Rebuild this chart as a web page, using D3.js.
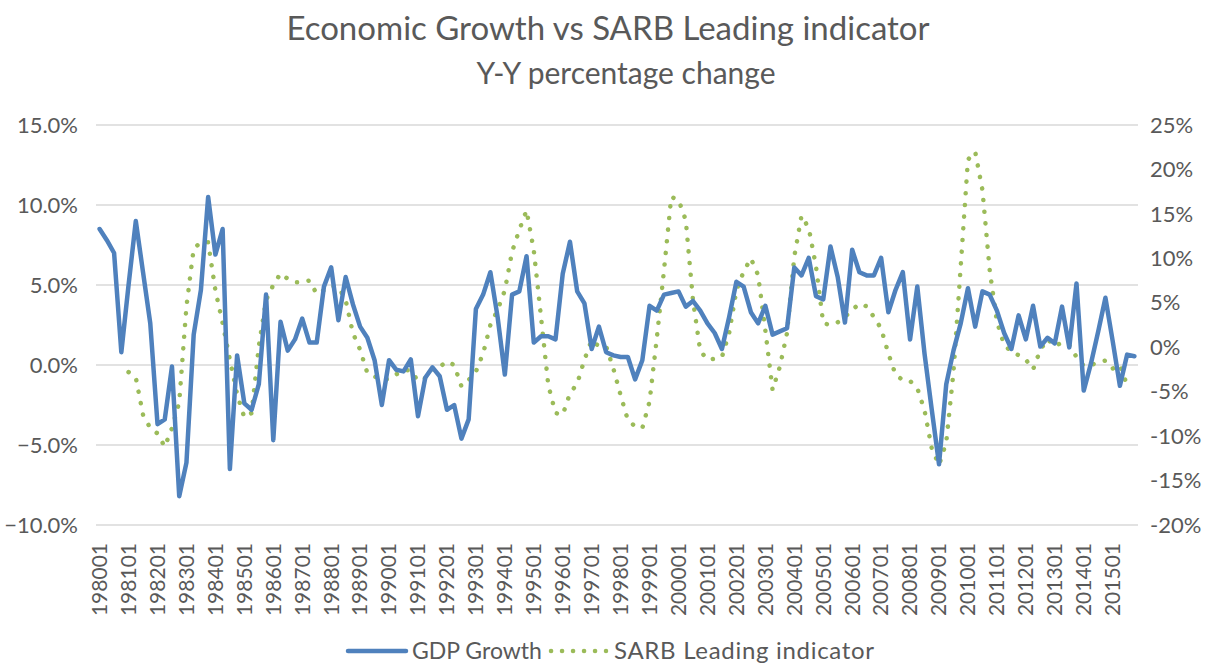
<!DOCTYPE html>
<html>
<head>
<meta charset="utf-8">
<script src="https://cdn.jsdelivr.net/npm/d3@7"></script>
<style>
  body { margin: 0; background: #fff; }
  text { font-family: Lato, "Open Sans", sans-serif; fill: #595959; }
</style>
</head>
<body>
<svg id="chart" width="1216" height="664"></svg>
<script>
// quarters 1980Q1 .. 2015Q4, labelled YYYY0Q
var years = d3.range(1980, 2016);
var quarters = [];
years.forEach(function (y) {
  [1, 2, 3, 4].forEach(function (q) { quarters.push(y + "0" + q); });
});

// GDP growth, y-y % (left axis)
var gdpGrowth = [
  8.5, 7.8, 7.0, 0.8, 5.0, 9.0, 5.8, 2.6,
  -3.7, -3.4, -0.1, -8.2, -6.1, 1.9, 4.7, 10.5,
  6.9, 8.5, -6.5, 0.6, -2.4, -2.8, -1.2, 4.4,
  -4.7, 2.7, 0.9, 1.6, 2.9, 1.4, 1.4, 4.9,
  6.1, 2.8, 5.5, 3.8, 2.4, 1.7, 0.3, -2.5,
  0.3, -0.3, -0.4, 0.35, -3.2, -0.8, -0.15, -0.7,
  -2.8, -2.5, -4.6, -3.4, 3.5, 4.4, 5.8, 3.0,
  -0.6, 4.4, 4.6, 6.8, 1.4, 1.8, 1.8, 1.6,
  5.7, 7.7, 4.6, 3.85, 1.0, 2.4, 0.8, 0.6,
  0.5, 0.5, -0.9, 0.3, 3.7, 3.4, 4.4, 4.5,
  4.6, 3.65, 4.0, 3.4, 2.6, 2.0, 1.0, 3.0,
  5.2, 4.9, 3.3, 2.6, 3.7, 1.9, 2.1, 2.3,
  6.1, 5.6, 6.7, 4.3, 4.1, 7.4, 5.5, 2.65,
  7.2, 5.8, 5.6, 5.6, 6.7, 3.3, 4.7, 5.8,
  1.6, 4.9, 0.7, -2.8, -6.2, -1.2, 0.9, 2.6,
  4.8, 2.4, 4.6, 4.4, 3.4, 2.0, 1.0, 3.1,
  1.6, 3.7, 1.15, 1.7, 1.35, 3.65, 1.1, 5.1,
  -1.6, 0.1, 2.1, 4.2, 1.5, -1.3, 0.65, 0.55
];

// SARB leading indicator, y-y % (right axis)
var sarbLeading = [
  null, null, null, null, -2.8, -3.4, -7.6, -9.1,
  -9.7, -11.2, -9.1, -6.2, 4.6, 11.1, 11.8, 11.8,
  6.4, 2.7, -1.4, -5.3, -7.9, -7.4, 0.1, 5.3,
  7.0, 8.3, 7.7, 7.3, 7.3, 7.5, 6.0, 6.4,
  6.9, 6.8, 5.3, 1.6, -0.3, -2.9, -3.3, -3.6,
  -3.6, -3.05, -2.6, -2.6, -3.8, -3.5, -2.4, -2.2,
  -1.6, -2.0, -4.4, -3.7, -2.75, -0.7, 2.5, 4.2,
  6.4, 10.75, 13.2, 15.4, 10.9, 3.4, -4.25, -7.4,
  -7.6, -5.2, -4.1, -1.4, 0.8, 0.1, 0.1, -2.4,
  -5.4, -8.2, -8.9, -9.1, -6.1, 1.0, 8.7, 16.9,
  16.6, 14.3, 5.3, -0.4, -1.4, -1.3, -1.1, 1.6,
  6.4, 8.5, 10.0, 8.1, 1.9, -4.8, -2.2, 1.6,
  10.2, 14.8, 13.4, 9.1, 2.7, 2.5, 2.8, 3.4,
  4.2, 4.9, 4.6, 3.4, 2.1, -0.7, -3.1, -3.7,
  -3.8, -4.6, -7.1, -11.4, -13.25, -10.7, -2.8, 9.1,
  21.1, 22.0, 17.7, 8.7, 2.9, 0.25, -0.5, -0.9,
  -1.4, -2.5, -0.3, 0.9, 0.1, 0.55, 0.25, -1.1,
  -2.1, -2.0, -1.7, -1.5, -2.4, -2.0, -4.3, null
];

var leftTicks = [-10, -5, 0, 5, 10, 15];
var rightTicks = [-20, -15, -10, -5, 0, 5, 10, 15, 20, 25];

var blue = "#4f81bd", green = "#9bbb59";
var svg = d3.select("#chart");
var plot = { left: 96, right: 1138, top: 125, bottom: 525 };

var x = d3.scaleBand().domain(quarters).range([plot.left, plot.right]).padding(0);
var cx = function (i) { return x(quarters[i]) + x.bandwidth() / 2; };
var yL = d3.scaleLinear().domain([-10, 15]).range([plot.bottom, plot.top]);
var yR = d3.scaleLinear().domain([-20, 25]).range([plot.bottom, plot.top]);

// title
svg.append("text").attr("x", 608).attr("y", 40).attr("text-anchor", "middle")
  .style("font-size", "33px").text("Economic Growth vs SARB Leading indicator");
svg.append("text").attr("x", 626).attr("y", 84).attr("text-anchor", "middle")
  .style("font-size", "30px").text("Y-Y percentage change");

// gridlines
svg.append("g").selectAll("line").data(leftTicks).enter().append("line")
  .attr("x1", plot.left).attr("x2", plot.right)
  .attr("y1", function (d) { return yL(d); }).attr("y2", function (d) { return yL(d); })
  .style("stroke", "#d9d9d9").style("stroke-width", 1.3);

// left axis labels
var fmtL = d3.format(".1f");
svg.append("g").selectAll("text").data(leftTicks).enter().append("text")
  .attr("x", 78).attr("y", function (d) { return yL(d); }).attr("dy", "0.35em")
  .attr("text-anchor", "end").style("font-size", "22px")
  .text(function (d) { return fmtL(d) + "%"; });

// right axis labels
svg.append("g").selectAll("text").data(rightTicks).enter().append("text")
  .attr("x", 1150).attr("y", function (d) { return yR(d); }).attr("dy", "0.35em")
  .attr("text-anchor", "start").style("font-size", "22px")
  .text(function (d) { return d + "%"; });

// x labels, every 4th quarter
svg.append("g").selectAll("text")
  .data(quarters.filter(function (d, i) { return i % 4 === 0; }))
  .enter().append("text")
  .attr("transform", function (d) {
    return "translate(" + (x(d) + x.bandwidth() / 2) + ",543) rotate(-90)";
  })
  .attr("dy", "0.35em").attr("text-anchor", "end").style("font-size", "21px")
  .text(function (d) { return d; });

// lines
var gdpLine = d3.line()
  .x(function (d, i) { return cx(i); })
  .y(function (d) { return yL(d); });
var sarbLine = d3.line()
  .defined(function (d) { return d !== null; })
  .x(function (d, i) { return cx(i); })
  .y(function (d) { return yR(d); });

svg.append("path").datum(sarbLeading).attr("d", sarbLine)
  .style("fill", "none").style("stroke", green).style("stroke-width", 4.5)
  .style("stroke-linecap", "round").style("stroke-dasharray", "0.1 11.6");

svg.append("path").datum(gdpGrowth).attr("d", gdpLine)
  .style("fill", "none").style("stroke", blue).style("stroke-width", 4.5)
  .style("stroke-linejoin", "round").style("stroke-linecap", "round");

// legend
var leg = svg.append("g");
leg.append("line").attr("x1", 348).attr("x2", 406).attr("y1", 651).attr("y2", 651)
  .style("stroke", blue).style("stroke-width", 4.5).style("stroke-linecap", "round");
leg.append("text").attr("x", 412).attr("y", 651).attr("dy", "0.35em")
  .style("font-size", "23px").text("GDP Growth");
leg.append("line").attr("x1", 551).attr("x2", 606).attr("y1", 651).attr("y2", 651)
  .style("stroke", green).style("stroke-width", 4.5).style("stroke-linecap", "round")
  .style("stroke-dasharray", "0.1 10.9");
leg.append("text").attr("x", 614).attr("y", 651).attr("dy", "0.35em")
  .style("font-size", "24px").style("letter-spacing", "0.7px")
  .text("SARB Leading indicator");
</script>
</body>
</html>
